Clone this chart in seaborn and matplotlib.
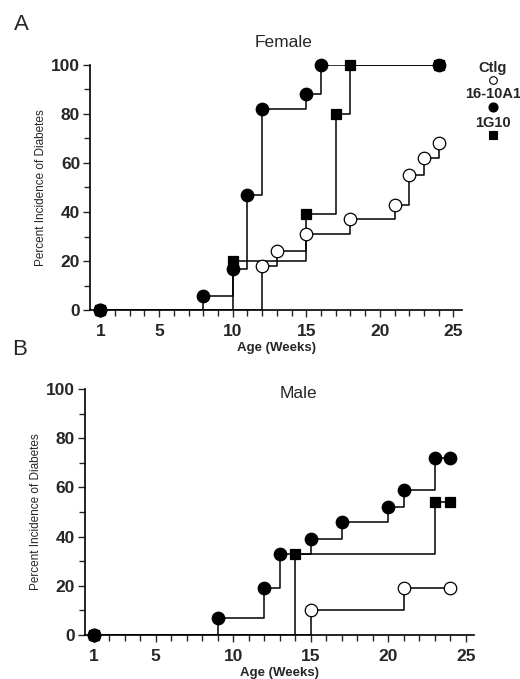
import matplotlib
matplotlib.use("Agg")
import matplotlib.pyplot as plt
import seaborn as sns
import pandas as pd
from matplotlib.ticker import MultipleLocator, FixedLocator

sns.set_style("white")
plt.rcParams['font.family'] = ['Liberation Sans', 'DejaVu Sans']

# Female data (week, percent)
fem_ctlg_wk = [1, 12, 13, 15, 18, 21, 22, 23, 24]
fem_ctlg_pct = [0, 18, 24, 31, 37, 43, 55, 62, 68]
fem_1610_wk = [1, 8, 10, 11, 12, 15, 16, 24]
fem_1610_pct = [0, 6, 17, 47, 82, 88, 100, 100]
fem_1g10_wk = [1, 10, 15, 17, 18, 24]
fem_1g10_pct = [0, 20, 39, 80, 100, 100]

# Male data
male_ctlg_wk = [1, 15, 21, 24]
male_ctlg_pct = [0, 10, 19, 19]
male_1610_wk = [1, 9, 12, 13, 15, 17, 20, 21, 23, 24]
male_1610_pct = [0, 7, 19, 33, 39, 46, 52, 59, 72, 72]
male_1g10_wk = [1, 14, 23, 24]
male_1g10_pct = [0, 33, 54, 54]

groups = ['Ctlg', '16-10A1', '1G10']
styles = {
    'Ctlg': dict(marker='o', mfc='white', ms=9),
    '16-10A1': dict(marker='o', mfc='black', ms=9),
    '1G10': dict(marker='s', mfc='black', ms=7.5),
}


def draw_panel(ax, data, xlim, title, title_xy):
    for g in groups:
        wk, pct = data[g]
        df = pd.DataFrame({'week': wk, 'pct': pct})
        sns.lineplot(data=df, x='week', y='pct', ax=ax, color='black', lw=1.1,
                     drawstyle='steps-post', estimator=None, sort=False)
        st = styles[g]
        ax.plot(df['week'], df['pct'], ls='none', marker=st['marker'],
                mfc=st['mfc'], mec='black', mew=0.9, ms=st['ms'],
                clip_on=False, zorder=5)
    ax.set_xlim(*xlim)
    ax.set_ylim(0, 100)
    ax.xaxis.set_major_locator(FixedLocator([1, 5, 10, 15, 20, 25]))
    ax.xaxis.set_minor_locator(MultipleLocator(1))
    ax.yaxis.set_major_locator(MultipleLocator(20))
    ax.yaxis.set_minor_locator(MultipleLocator(10))
    ax.tick_params(which='major', direction='out', length=5, width=1,
                   labelsize=12.5, bottom=True, left=True, pad=2)
    ax.tick_params(axis='x', which='major', pad=5)
    ax.tick_params(which='minor', direction='out', length=4, width=1,
                   bottom=True, left=True)
    for lab in ax.get_xticklabels() + ax.get_yticklabels():
        lab.set_fontweight('bold')
    sns.despine(ax=ax)
    for s in ['left', 'bottom']:
        ax.spines[s].set_color('black')
        ax.spines[s].set_linewidth(1.2)
    ax.set_xlabel('Age (Weeks)', fontsize=9.5, fontweight='bold', labelpad=2)
    ax.set_ylabel('Percent Incidence of Diabetes', fontsize=8.5, labelpad=3)
    ax.text(title_xy[0], title_xy[1], title, transform=ax.transAxes,
            fontsize=12.5, ha='center', va='center')


fig = plt.figure(figsize=(5.2, 6.79), dpi=100)
ax1 = fig.add_axes([0.173, 0.543, 0.716, 0.362])
ax2 = fig.add_axes([0.163, 0.065, 0.748, 0.362])

draw_panel(ax1, {'Ctlg': (fem_ctlg_wk, fem_ctlg_pct),
                 '16-10A1': (fem_1610_wk, fem_1610_pct),
                 '1G10': (fem_1g10_wk, fem_1g10_pct)},
           (0.3, 25.6), 'Female', (0.52, 1.09))
draw_panel(ax2, {'Ctlg': (male_ctlg_wk, male_ctlg_pct),
                 '16-10A1': (male_1610_wk, male_1610_pct),
                 '1G10': (male_1g10_wk, male_1g10_pct)},
           (0.42, 25.5), 'Male', (0.55, 0.98))

# legend drawn as stacked labels/markers to the right of panel A
leg_x = 493 / 520
leg_rows = [('Ctlg', 68, 80, 5.5), ('16-10A1', 94, 107, 6.5), ('1G10', 123, 135, 5.5)]
for g, ty, my, ms in leg_rows:
    fig.text(leg_x, 1 - ty / 679, g, ha='center', va='center', fontsize=10.5,
             fontweight='bold')
    st = styles[g]
    fig.lines.append(plt.Line2D([leg_x], [1 - my / 679], transform=fig.transFigure,
                                ls='none', marker=st['marker'], mfc=st['mfc'],
                                mec='black', mew=0.8, ms=ms))

fig.text(14 / 520, 1 - 25 / 679, 'A', fontsize=16, ha='left', va='center')
fig.text(12 / 520, 1 - 350 / 679, 'B', fontsize=16, ha='left', va='center')

fig.savefig('out.png', dpi=100)
